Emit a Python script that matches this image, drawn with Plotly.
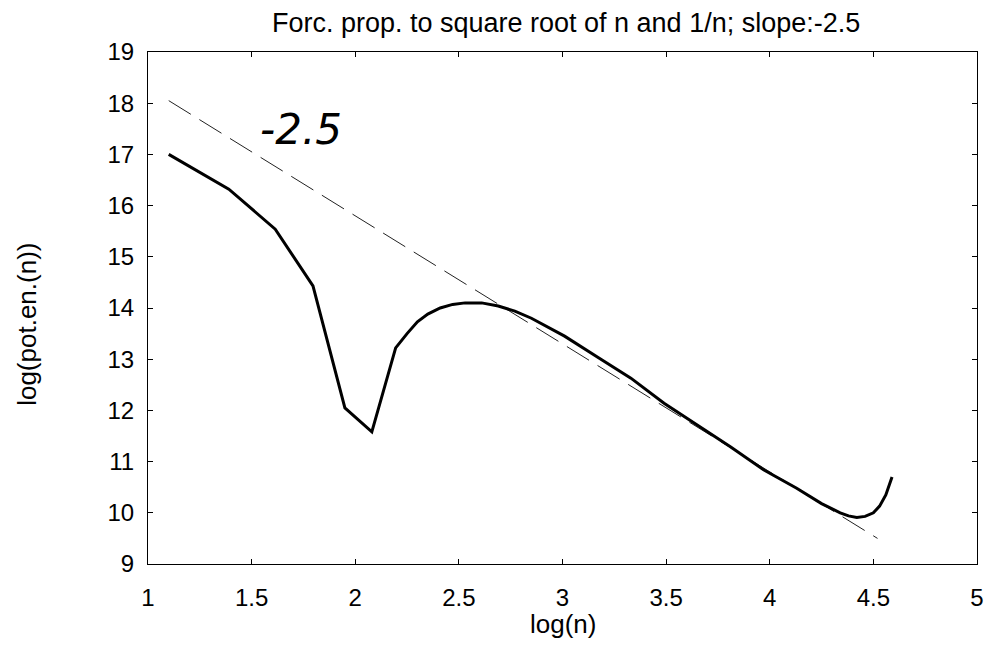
import plotly.graph_objects as go

# solid curve: log(n) vs log(pot.en.(n))
curve_x = [1.10, 1.39, 1.614, 1.796, 1.95, 2.08, 2.195, 2.25, 2.30, 2.35, 2.41, 2.47, 2.53, 2.61,
           2.69, 2.77, 2.85, 3.01, 3.17, 3.33, 3.49, 3.65, 3.81, 3.97, 4.13, 4.25, 4.34, 4.38,
           4.42, 4.46, 4.50, 4.53, 4.56, 4.59]
curve_y = [17.0, 16.32, 15.54, 14.43, 12.05, 11.58, 13.22, 13.50, 13.73, 13.88, 14.0, 14.07, 14.10, 14.10,
           14.04, 13.94, 13.80, 13.45, 13.04, 12.63, 12.14, 11.71, 11.29, 10.84, 10.48, 10.18, 10.00, 9.94,
           9.91, 9.93, 10.00, 10.13, 10.35, 10.70]

# dashed reference line with slope -2.5
ref_x = [1.10, 4.52]
ref_y = [18.05, 9.50]

x_ticks = [1, 1.5, 2, 2.5, 3, 3.5, 4, 4.5, 5]
y_ticks = [9, 10, 11, 12, 13, 14, 15, 16, 17, 18, 19]

font_family = "Liberation Sans, Arial, sans-serif"

fig = go.Figure()
fig.add_trace(go.Scatter(x=ref_x, y=ref_y, mode="lines",
                         line=dict(color="#222222", width=1, dash="26px,10px"),
                         showlegend=False, hoverinfo="skip"))
fig.add_trace(go.Scatter(x=curve_x, y=curve_y, mode="lines",
                         line=dict(color="black", width=3),
                         showlegend=False))

fig.add_annotation(x=1.74, y=17.48, text="<i>-2.5</i>", showarrow=False,
                   font=dict(family="DejaVu Sans, sans-serif", size=42, color="black"))

# axis titles
fig.add_annotation(xref="paper", yref="paper", x=0.5, y=-0.117, text="log(n)",
                   showarrow=False, xanchor="center", yanchor="middle",
                   font=dict(family=font_family, size=26, color="black"))
fig.add_annotation(xref="paper", yref="paper", x=-0.146, y=0.469, text="log(pot.en.(n))",
                   showarrow=False, xanchor="center", yanchor="middle", textangle=-90,
                   font=dict(family=font_family, size=26, color="black"))

fig.update_layout(
    width=986, height=638,
    margin=dict(l=140, r=10, t=44, b=82),
    paper_bgcolor="white", plot_bgcolor="white",
    title=dict(text="Forc. prop. to square root of n and 1/n; slope:-2.5",
               x=0.566, xanchor="center", y=0.978, yanchor="middle",
               font=dict(family=font_family, size=27, color="black")),
    font=dict(family=font_family, color="black"),
)
fig.update_xaxes(range=[1, 5], tickvals=x_ticks, ticktext=[f"{v:g}" for v in x_ticks],
                 ticks="inside", ticklen=5, tickcolor="black", mirror="ticks",
                 showline=True, linecolor="black", linewidth=1, showgrid=False, zeroline=False,
                 tickfont=dict(size=24), ticklabelstandoff=12)
fig.update_yaxes(range=[9, 19], tickvals=y_ticks, ticks="inside", ticklen=5, tickcolor="black",
                 mirror="ticks", showline=True, linecolor="black", linewidth=1, showgrid=False,
                 zeroline=False, tickfont=dict(size=24), ticklabelstandoff=8)

fig.write_html("out.html")
